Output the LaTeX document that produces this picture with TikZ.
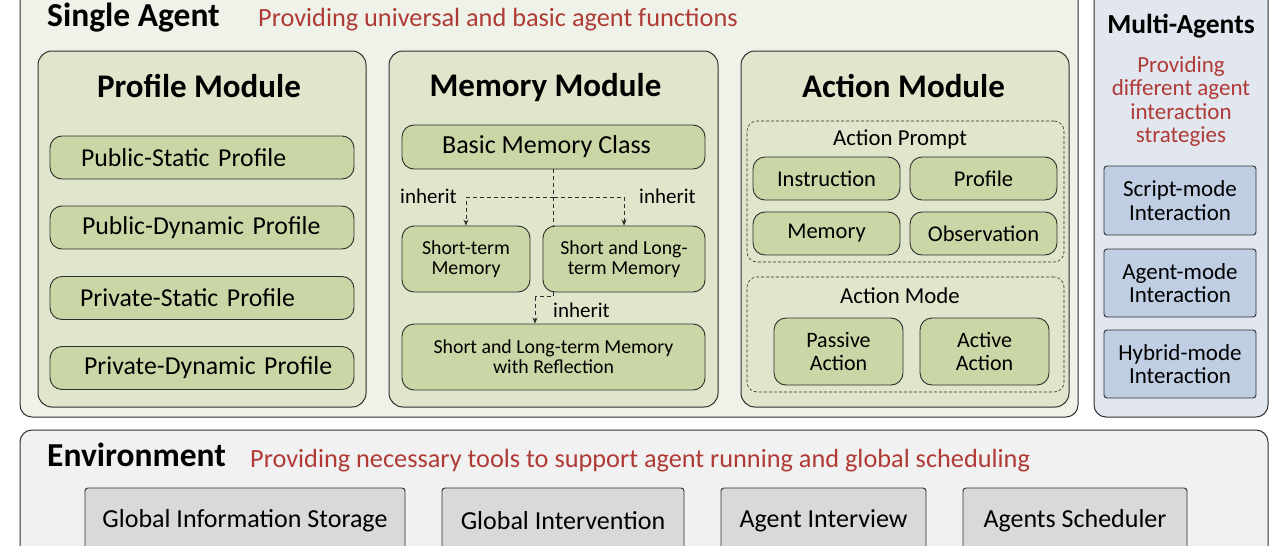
\documentclass[tikz,border=0pt]{standalone}
\usepackage{fontspec}
\setmainfont{Carlito}
\usetikzlibrary{arrows.meta}
\definecolor{saFill}{HTML}{EEF2E8}
\definecolor{modFill}{HTML}{DFE6CB}
\definecolor{itemFill}{HTML}{CBD6A6}
\definecolor{maFill}{HTML}{E1E6EF}
\definecolor{maItem}{HTML}{C0CEE3}
\definecolor{envFill}{HTML}{F1F1F1}
\definecolor{envItem}{HTML}{D9D9D9}
\definecolor{redtxt}{HTML}{B03A36}
\definecolor{edge}{HTML}{2E2E2E}
\tikzset{
  panel/.style={draw=edge, line width=1pt, rounded corners=12pt, inner sep=0pt},
  modbox/.style={draw=edge, line width=1pt, rounded corners=14pt, fill=modFill, inner sep=0pt},
  itembox/.style={draw=edge, line width=0.9pt, rounded corners=12pt, fill=itemFill, inner sep=0pt, align=center},
  dashbox/.style={draw=edge, line width=0.6pt, densely dashed, rounded corners=10pt, inner sep=0pt},
  sqbox/.style={draw=edge, line width=0.9pt, rounded corners=3pt, inner sep=0pt, align=center},
  bigtitle/.style={font=\fontsize{33.5}{38}\selectfont\bfseries, inner sep=0pt},
  modtitle/.style={font=\fontsize{33}{38}\selectfont\bfseries, inner sep=0pt},
  redsub/.style={font=\fontsize{26.3}{30}\selectfont, text=redtxt, inner sep=0pt},
  inh/.style={draw=edge, line width=0.8pt, dashed, dash pattern=on 4pt off 3pt},
  inhlbl/.style={font=\fontsize{21}{24}\selectfont, inner sep=0pt},
  tip/.style={-{Stealth[length=6pt,width=5pt]}}
}
\begin{document}
\begin{tikzpicture}[x=1pt,y=-1pt]
\useasboundingbox (0,0) rectangle (1280,546);
\fill[white] (0,0) rectangle (1280,546);
\begin{scope}
\clip (0,0) rectangle (1280,546);
% Single Agent panel
\node[panel, fill=saFill, minimum width=1058, minimum height=437] (sa) at (549,198.5) {};
\node[bigtitle, anchor=base west] (satitle) at (47,27) {Single Agent};
\node[redsub, anchor=base west] (sasub) at (258,27) {Providing universal and basic agent functions};

% Profile module
\node[modbox, minimum width=328, minimum height=356] (prof) at (202,229) {};
\node[modtitle, anchor=base] (proft) at (199,97.5) {Profile Module};
\tikzset{pitem/.style={itembox, minimum width=304, minimum height=43, text width=272, inner xsep=16pt, align=left, font=\fontsize{25.8}{28}\selectfont}}
\node[pitem] (p1) at (202,157.5) {\hspace*{15pt}Public-Static Profile};
\node[pitem] (p2) at (202,227.5) {\hspace*{16pt}Public-Dynamic Profile};
\node[pitem] (p3) at (202,298) {\hspace*{14pt}Private-Static Profile};
\node[pitem] (p4) at (202,368) {\hspace*{18pt}Private-Dynamic Profile};

% Memory module
\node[modbox, minimum width=329, minimum height=356] (mem) at (553.5,229) {};
\node[modtitle, anchor=base] (memt) at (545.5,96.7) {Memory Module};
\node[itembox, minimum width=303, minimum height=44, font=\fontsize{26}{28}\selectfont] (bmc) at (553.5,147) {\hspace*{-14pt}Basic Memory Class};
\node[itembox, minimum width=128, minimum height=66, font=\fontsize{19.8}{20}\selectfont] (stm) at (466,259) {Short-term\\Memory};
\node[itembox, minimum width=162, minimum height=66, font=\fontsize{19.8}{20}\selectfont] (slt) at (624,259) {Short and Long-\\term Memory};
\node[itembox, minimum width=303, minimum height=66, font=\fontsize{19.8}{20}\selectfont] (slr) at (553.5,357) {Short and Long-term Memory\\with Reflection};
\coordinate (hj) at (553.5,197);
\draw[inh] (bmc.south) -- (bmc.south |- slt.north);
\draw[inh, tip] (hj) -| (stm.north);
\draw[inh, tip] (hj) -| (slt.north);
\coordinate (bj) at (553.5,296.5);
\coordinate (bk) at (535,296.5);
\draw[inh] (slt.south -| bmc.south) -- (bj) -- (bk);
\draw[inh, tip] (bk) -- (bk |- slr.north);
\node[inhlbl, anchor=west] (il) at (400,196) {inherit};
\node[inhlbl, anchor=west] (ir) at (639,196) {inherit};
\node[inhlbl, anchor=west] (ib) at (553,310.5) {inherit};

% Action module
\node[modbox, minimum width=328, minimum height=356] (act) at (905,229) {};
\node[modtitle, anchor=base] (actt) at (903.5,97.5) {Action Module};
\node[dashbox, minimum width=317, minimum height=141] (ap) at (905.5,191.5) {};
\node[inhlbl, font=\fontsize{22.8}{24}\selectfont] (apt) at (900,139) {Action Prompt};
\tikzset{aitem/.style={itembox, minimum width=147, minimum height=43, font=\fontsize{22.5}{24}\selectfont}}
\node[aitem] (ins) at (826.5,178.5) {Instruction};
\node[aitem] (apr) at (983.5,178.5) {Profile};
\node[aitem] (ame) at (826.5,233.5) {Memory};
\node[aitem] (aob) at (983.5,233.5) {Observation};
\node[dashbox, minimum width=317, minimum height=115] (am) at (905.5,334.5) {};
\node[inhlbl, font=\fontsize{22.8}{24}\selectfont] (amt) at (900,296) {Action Mode};
\tikzset{mitem/.style={itembox, minimum width=129, minimum height=67, font=\fontsize{22}{23.3}\selectfont}}
\node[mitem] (pas) at (838.5,351.5) {Passive\\Action};
\node[mitem] (acv) at (984.5,351.5) {Active\\Action};

% Multi-Agents panel
\node[panel, fill=maFill, minimum width=174, minimum height=437] (ma) at (1181,198.5) {};
\node[font=\fontsize{27.5}{30}\selectfont\bfseries, anchor=base, inner sep=0pt] (mat) at (1181,33.3) {Multi-Agents};
\node[redsub, font=\fontsize{23}{23.3}\selectfont, align=center] (masub) at (1181,101.5) {Providing\\different agent\\interaction\\strategies};
\tikzset{maitem/.style={sqbox, fill=maItem, minimum width=152, font=\fontsize{23}{23.3}\selectfont}}
\node[maitem, minimum height=69] (m1) at (1180,200.5) {Script-mode\\Interaction};
\node[maitem, minimum height=68] (m2) at (1180,283) {Agent-mode\\Interaction};
\node[maitem, minimum height=68] (m3) at (1180,364) {Hybrid-mode\\Interaction};

% Environment panel
\node[panel, fill=envFill, minimum width=1248, minimum height=150] (env) at (644,505) {};
\node[bigtitle, anchor=base west] (envt) at (47,466.5) {Environment};
\node[redsub, anchor=base west] (envs) at (250,467) {Providing necessary tools to support agent running and global scheduling};
\tikzset{eitem/.style={sqbox, fill=envItem, minimum height=66, font=\fontsize{26}{28}\selectfont}}
\node[eitem, minimum width=320] (e1) at (245,521) {Global Information Storage};
\node[eitem, minimum width=242] (e2) at (563,521) {Global Intervention};
\node[eitem, minimum width=205] (e3) at (823.5,521) {Agent Interview};
\node[eitem, minimum width=224] (e4) at (1075,521) {Agents Scheduler};
\end{scope}
\end{tikzpicture}
\end{document}
